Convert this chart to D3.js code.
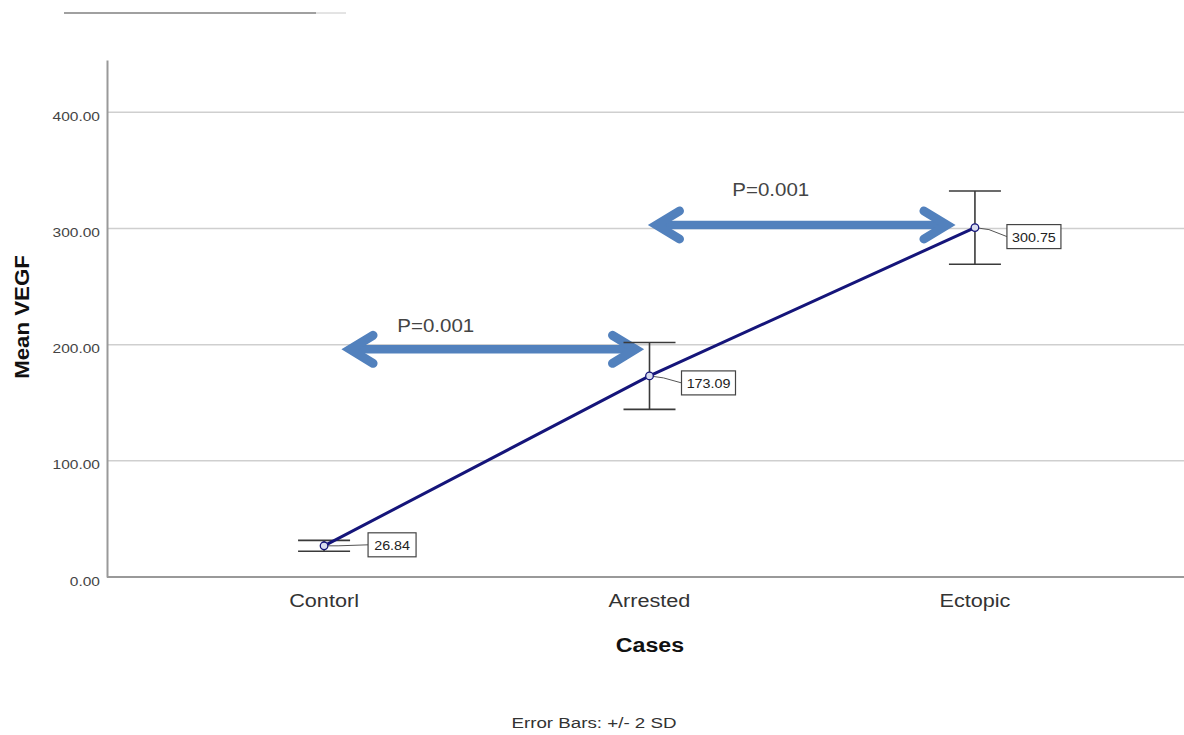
<!DOCTYPE html>
<html><head><meta charset="utf-8">
<script src="https://cdn.jsdelivr.net/npm/d3@7"></script>
<style>body{margin:0;background:#fff;}svg{display:block;font-family:"Liberation Sans",Arial,sans-serif;}</style>
</head><body>
<svg id="c" width="1184" height="735"></svg>
<script>
const categories = ["Contorl", "Arrested", "Ectopic"];
const means = [26.84, 173.09, 300.75];
const errHalf = [4.7, 28.8, 31.5];
const yTicks = [0, 100, 200, 300, 400];
const labelText = ["26.84", "173.09", "300.75"];
const pLabels = ["P=0.001", "P=0.001"];
const arrowYValues = [196, 303];
const arrowPairs = [["Contorl", "Arrested"], ["Arrested", "Ectopic"]];

const svg = d3.select("#c");
const x = d3.scalePoint().domain(categories).range([107, 1192]).padding(0.667);
const y = d3.scaleLinear().domain([0, 445]).range([577, 60]);

function txt(g, tx, ty, s, size, sx, opts) {
  opts = opts || {};
  return g.append("text")
    .attr("transform", `translate(${tx},${ty}) scale(${sx},1)`)
    .attr("text-anchor", opts.anchor || "middle")
    .attr("font-size", size)
    .attr("font-weight", opts.bold ? "bold" : "normal")
    .attr("fill", opts.fill || "#333")
    .text(s);
}

// top-left decoration line
svg.append("line").attr("x1",64).attr("x2",316).attr("y1",13).attr("y2",13).attr("stroke","#a0a0a0").attr("stroke-width",2);
svg.append("line").attr("x1",316).attr("x2",346).attr("y1",13).attr("y2",13).attr("stroke","#c8c8c8").attr("stroke-width",1);

// gridlines
svg.append("g").selectAll("line").data(yTicks.filter(d=>d>0)).join("line")
  .attr("x1",107).attr("x2",1184).attr("y1",d=>y(d)).attr("y2",d=>y(d))
  .attr("stroke","#cfcfcf").attr("stroke-width",1.5);

// y axis
const yAx = svg.append("g").attr("transform","translate(107,0)")
  .call(d3.axisLeft(y).tickValues(yTicks).tickFormat(d3.format(".2f")).tickSize(0).tickPadding(0));
yAx.select(".domain").attr("stroke","#999").attr("stroke-width",2);
yAx.selectAll(".tick text")
  .attr("x", null).attr("dy", null)
  .attr("transform","translate(-7,8) scale(1.15,1)")
  .attr("font-size",13.5).attr("fill","#444").attr("font-family","Liberation Sans, Arial, sans-serif");

// x axis
svg.append("line").attr("x1",107).attr("x2",1184).attr("y1",y(0)).attr("y2",y(0)).attr("stroke","#999").attr("stroke-width",2);
const xl = svg.append("g");
categories.forEach(c => txt(xl, x(c), 607, c, 19, 1.14, {fill:"#333"}));

// axis titles
svg.append("text").attr("transform","translate(29,317) rotate(-90) scale(1.06,1)").attr("text-anchor","middle")
  .attr("font-size",21).attr("font-weight","bold").attr("fill","#111").text("Mean VEGF");
txt(svg, 650, 652, "Cases", 20, 1.16, {bold:true, fill:"#111"});
txt(svg, 594, 728, "Error Bars: +/- 2 SD", 15, 1.25, {fill:"#333"});

// arrows
const blue = "#5281bd";
const ag = svg.append("g");
arrowPairs.forEach((p,i)=>{
  const yy = y(arrowYValues[i]);
  const x1 = x(p[0]) + (i===0 ? 23 : 4);
  const x2 = x(p[1]) - (i===0 ? 11 : 25);
  ag.append("line").attr("x1",x1+6).attr("x2",x2-6).attr("y1",yy).attr("y2",yy)
    .attr("stroke",blue).attr("stroke-width",8.5);
  const hl=26, hh=14;
  ag.append("path").attr("d",`M${x1+hl},${yy-hh} L${x1+3},${yy} L${x1+hl},${yy+hh}`)
    .attr("fill","none").attr("stroke",blue).attr("stroke-width",9).attr("stroke-linejoin","miter").attr("stroke-linecap","round");
  ag.append("path").attr("d",`M${x2-hl},${yy-hh} L${x2-3},${yy} L${x2-hl},${yy+hh}`)
    .attr("fill","none").attr("stroke",blue).attr("stroke-width",9).attr("stroke-linejoin","miter").attr("stroke-linecap","round");
  txt(ag, (x1+x2)/2 - (i===0?57:31), yy-(i===0?17:29), pLabels[i], 18, 1.14, {fill:"#444"});
});

// error bars
const data = categories.map((c,i)=>({c, m:means[i], e:errHalf[i], t:labelText[i]}));
const eg = svg.append("g").attr("stroke","#3a3a3a").attr("stroke-width",1.6);
data.forEach(d=>{
  const cx = x(d.c);
  eg.append("line").attr("x1",cx).attr("x2",cx).attr("y1",y(d.m+d.e)).attr("y2",y(d.m-d.e));
  eg.append("line").attr("x1",cx-26).attr("x2",cx+26).attr("y1",y(d.m+d.e)).attr("y2",y(d.m+d.e));
  eg.append("line").attr("x1",cx-26).attr("x2",cx+26).attr("y1",y(d.m-d.e)).attr("y2",y(d.m-d.e));
});

// line
svg.append("path").datum(data)
  .attr("d",d3.line().x(d=>x(d.c)).y(d=>y(d.m)))
  .attr("fill","none").attr("stroke","#15157a").attr("stroke-width",3);

// labels with leaders
data.forEach((d,i)=>{
  const cx = x(d.c), cy = y(d.m);
  const bx = cx + (i===0?44:32), bw = i===0?48:54;
  const by = cy + (i===0?-13:(i===1?-5:-3)), bh = 24;
  svg.append("polyline").attr("points",`${cx},${cy} ${cx+14},${cy+ (i===0?0:2)} ${bx},${by+bh/2}`)
    .attr("fill","none").attr("stroke","#555").attr("stroke-width",1);
  svg.append("rect").attr("x",bx).attr("y",by).attr("width",bw).attr("height",bh)
    .attr("fill","#fff").attr("stroke","#444").attr("stroke-width",1.2);
  txt(svg, bx+bw/2, by+bh/2+5, d.t, 13, 1.1, {fill:"#222"});
});

// markers
svg.append("g").selectAll("circle").data(data).join("circle")
  .attr("cx",d=>x(d.c)).attr("cy",d=>y(d.m)).attr("r",3.8)
  .attr("fill","#d8dcef").attr("stroke","#15157a").attr("stroke-width",1.3);
</script>
</body></html>
